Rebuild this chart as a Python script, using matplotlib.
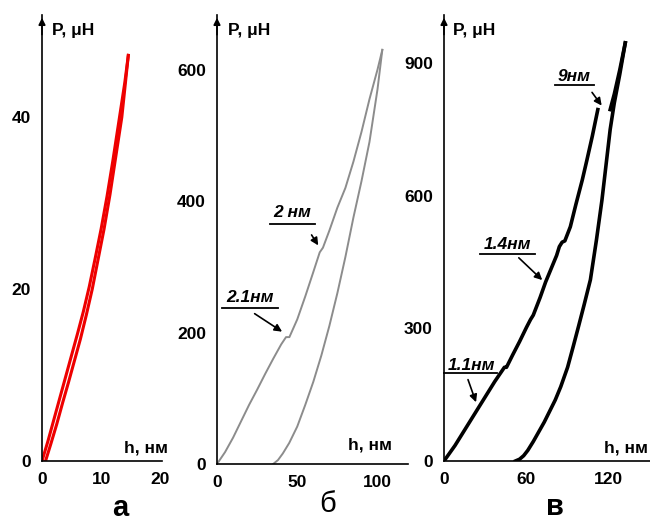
import numpy as np
import matplotlib
matplotlib.use("Agg")
import matplotlib.pyplot as plt

plt.rcParams['font.family'] = ['Liberation Sans', 'DejaVu Sans']

# panel a (red), h in nm, P in uN
load_a_h = [0, 1, 2, 3, 4, 5, 6, 7, 8, 9, 10, 11, 12, 13, 14, 14.6]
load_a_P = [0, 2.3, 4.8, 7.3, 9.8, 12.3, 14.8, 17.4, 20.3, 23.6, 27, 30.8, 35, 39.5, 44, 47.2]
unload_a_h = [0.6, 1.5, 2.5, 3.5, 4.5, 5.5, 6.5, 7.5, 8.5, 9.5, 10.5, 11.5, 12.5, 13.5, 14.6]
unload_a_P = [0, 2, 4.3, 6.8, 9.2, 11.7, 14.2, 17, 20, 23.5, 27, 31, 35.5, 40, 47.2]

# panel b (grey)
load_b_h = [0, 5, 10, 15, 20, 25, 30, 35, 40, 43.0, 45.1, 50, 55, 60, 64.0, 66.0, 70, 75, 80,
            85, 90, 95, 100, 103]
load_b_P = [0, 18, 40, 65, 90, 113, 137, 160, 182, 193, 193, 220, 255, 292, 322, 329, 355, 390,
            420, 460, 505, 555, 600, 630]
unload_b_h = [35, 38, 41, 45, 50, 55, 60, 65, 70, 75, 80, 85, 90, 95, 100, 103]
unload_b_P = [0, 6, 16, 32, 57, 90, 125, 165, 210, 260, 315, 375, 430, 490, 570, 630]

# panel c (black); nan marks the 9 nm pop-in gap
load_c_h = [0, 8, 16, 24, 30, 37, 44, 45.5, 50, 55, 60, 63, 65, 70, 74, 78, 82, 84, 86, 88, 92,
            96, 100.7, 104, 108, 112, np.nan, 121, 124, 128, 132]
load_c_P = [0, 35, 75, 115, 145, 180, 212, 212, 240, 270, 302, 320, 330, 370, 405, 435, 465, 485,
            495, 498, 530, 580, 636, 680, 735, 795, np.nan, 795, 830, 885, 946]
unload_c_h = [52, 55, 58, 61, 65, 69, 73, 77, 81, 85, 90, 94, 98, 102, 106.6, 111, 115, 118,
              121, 124, 128, 132]
unload_c_P = [0, 4, 12, 24, 44, 66, 88, 113, 138, 168, 212, 258, 305, 353, 410, 500, 590, 670,
              750, 810, 875, 946]

W, H = 650, 523
fig = plt.figure(figsize=(6.5, 5.23), dpi=100)


def make_ax(x0, y0, x1, y1, xlim, ylim, xt, yt):
    ax = fig.add_axes([x0 / W, 1 - y0 / H, (x1 - x0) / W, (y0 - y1) / H])
    ax.set_xlim(*xlim)
    ax.set_ylim(*ylim)
    for s in ['top', 'right']:
        ax.spines[s].set_visible(False)
    for s in ['left', 'bottom']:
        ax.spines[s].set_linewidth(1.2)
    ax.set_xticks(xt)
    ax.set_yticks(yt)
    ax.tick_params(length=0, labelsize=12.5, pad=8)
    for lab in ax.get_xticklabels() + ax.get_yticklabels():
        lab.set_fontweight('bold')
    ax.annotate('', xy=(0, 1.0), xytext=(0, 0.95), xycoords='axes fraction',
                arrowprops=dict(arrowstyle='-|>', color='black', lw=1.2, mutation_scale=10))
    ax.patch.set_alpha(0)
    return ax


def ftext(x, y, s, **kw):
    fig.text(x / W, 1 - y / H, s, **kw)


def note(ax, s, tx, ty, ux0, ux1, uy, ax0, ay0, ax1, ay1):
    ax.text(tx, ty, s, ha='center', va='center', fontsize=12.5, fontweight='bold',
            fontstyle='italic')
    ax.plot([ux0, ux1], [uy, uy], color='black', lw=1.3, clip_on=False)
    ax.annotate('', xy=(ax1, ay1), xytext=(ax0, ay0),
                arrowprops=dict(arrowstyle='-|>', color='black', lw=1.2, mutation_scale=11))


# panel a
ax_a = make_ax(42, 461, 162, 15, (0, 20.3), (0, 51.9), [0, 10, 20], [0, 20, 40])
ax_a.plot(load_a_h, load_a_P, color='#ee0000', lw=2.2)
ax_a.plot(unload_a_h, unload_a_P, color='#ee0000', lw=2.2)

# panel b
ax_b = make_ax(217, 464, 408, 15, (0, 119), (0, 683), [0, 50, 100], [0, 200, 400, 600])
ax_b.plot(load_b_h, load_b_P, color='#8c8c8c', lw=1.4)
ax_b.plot(unload_b_h, unload_b_P, color='#8c8c8c', lw=1.4)
note(ax_b, '2 нм', 47, 382, 33, 61, 365, 58, 352, 64, 329)
note(ax_b, '2.1нм', 20.6, 253, 3, 38, 237, 22, 231, 42, 199)

# panel c
ax_c = make_ax(444, 461, 650, 15, (0, 150), (0, 1009), [0, 60, 120], [0, 300, 600, 900])
ax_c.plot(load_c_h, load_c_P, color='black', lw=2.6)
ax_c.plot(unload_c_h, unload_c_P, color='black', lw=2.6)
note(ax_c, '1.1нм', 19.7, 217, 0, 38.7, 199, 16.8, 190, 24, 127)
note(ax_c, '1.4нм', 46, 489, 26, 66, 468, 53, 464, 73, 405)
note(ax_c, '9нм', 95, 869, 81, 109, 851, 106.6, 839, 116, 799)

# axis titles
for x in [52, 228, 453]:
    ftext(x, 31, 'P, μH', ha='left', va='center', fontsize=12.5, fontweight='bold')
for x, y in [(168, 448), (392, 445), (648, 448)]:
    ftext(x, y, 'h, нм', ha='right', va='center', fontsize=12.5, fontweight='bold')

# panel letters
ftext(120, 508, 'а', ha='center', va='center', fontsize=21, fontweight='bold')
ftext(328, 504, 'б', ha='center', va='center', fontsize=21)
ftext(555, 507, 'в', ha='center', va='center', fontsize=21, fontweight='bold')

fig.savefig('out.png', dpi=100)
